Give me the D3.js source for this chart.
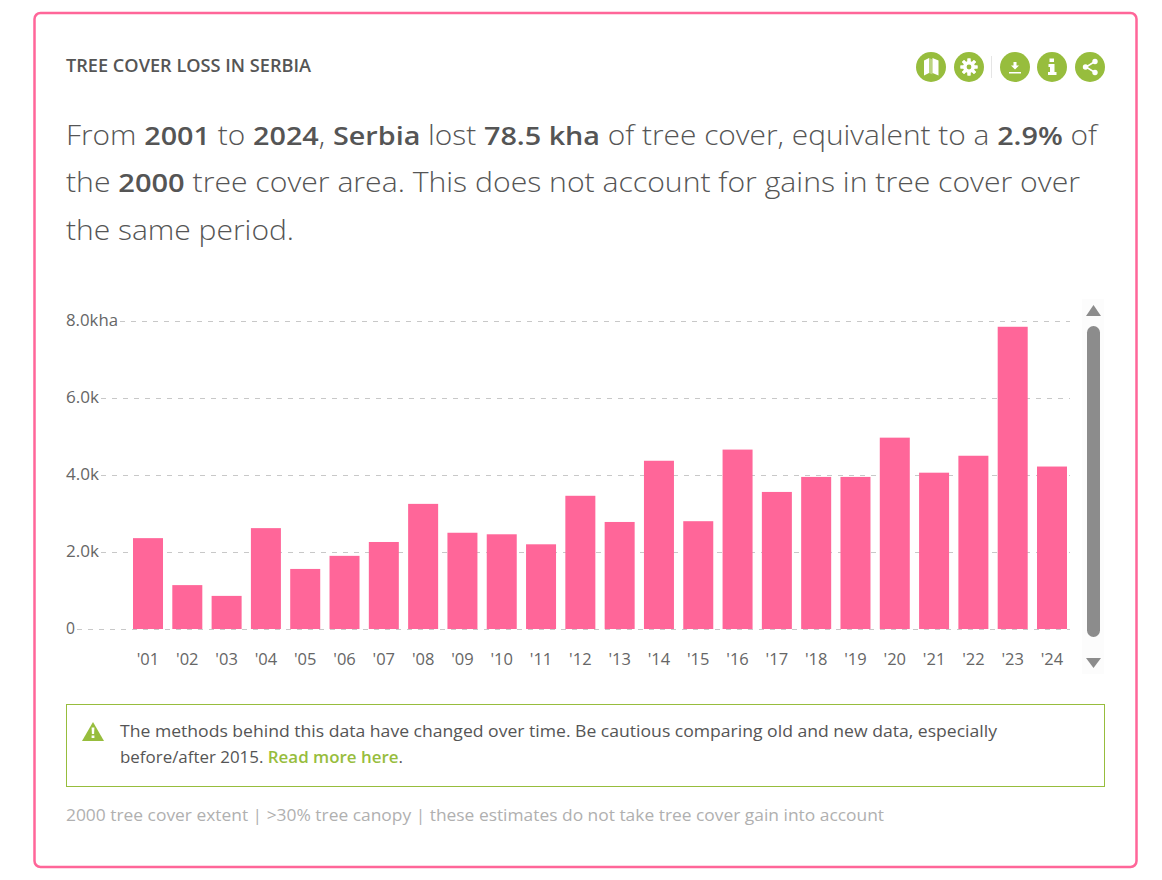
<!DOCTYPE html>
<html><head><meta charset="utf-8">
<script src="https://cdnjs.cloudflare.com/ajax/libs/d3/7.8.5/d3.min.js"></script>
<style>
html,body{margin:0;padding:0;background:#fff;overflow:hidden}
svg{display:block}
text{font-family:"Open Sans",sans-serif}
</style></head><body><div id="chart"></div>
<script>
const years=["'01","'02","'03","'04","'05","'06","'07","'08","'09","'10","'11","'12","'13","'14","'15","'16","'17","'18","'19","'20","'21","'22","'23","'24"];
const lossKha=[2.36,1.14,0.86,2.62,1.56,1.90,2.26,3.25,2.50,2.46,2.20,3.46,2.78,4.37,2.80,4.66,3.56,3.95,3.95,4.97,4.06,4.50,7.85,4.22];
const yTicks=[0,2,4,6,8];
const yTickLabels=["0","2.0k","4.0k","6.0k","8.0kha"];
const tickLabelWidths=[11,35,35,35,54];
const titleText="TREE COVER LOSS IN SERBIA";
const sentence=[
 [["From ",0],["2001",1],[" to ",0],["2024",1],[", ",0],["Serbia",1],[" lost ",0],["78.5 kha",1],[" of tree cover, equivalent to a ",0],["2.9%",1],[" of",0]],
 [["the ",0],["2000",1],[" tree cover area. This does not account for gains in tree cover over",0]],
 [["the same period.",0]]
];
const noteLines=[[["The methods behind this data have changed over time. Be cautious comparing old and new data, especially",0]],[["before/after 2015. ",0],["Read more here",1],[".",0]]];
const footer="2000 tree cover extent | >30% tree canopy | these estimates do not take tree cover gain into account";

const pink="#ff6699",green="#97bd3d",ink="#555";
const svg=d3.select("#chart").append("svg").attr("width",1162).attr("height",880);
svg.append("rect").attr("x",34.5).attr("y",13).attr("width",1102).attr("height",854).attr("rx",6)
 .attr("fill","#fff").attr("stroke",pink).attr("stroke-width",2.5);

const x=d3.scaleBand().domain(years).range([133,1067]).paddingInner(0.2366).paddingOuter(0);
const y=d3.scaleLinear().domain([0,8]).range([629,321]);

svg.append("text").attr("x",66).attr("y",72).attr("font-size",18).attr("font-weight",600).attr("fill",ink)
 .attr("textLength",245).attr("lengthAdjust","spacingAndGlyphs").text(titleText);

// header buttons
const icons=[931,969,1015,1052,1090];
svg.selectAll("circle.btn").data(icons).join("circle").attr("class","btn").attr("cx",d=>d).attr("cy",67).attr("r",15).attr("fill",green);
svg.append("line").attr("x1",991.5).attr("x2",991.5).attr("y1",56).attr("y2",78).attr("stroke","#e5e5e5");
const w=svg.append("g").attr("fill","#fff");
w.append("path").attr("d","M924 60.5l5 -2.5v15l-5 2.5zM932.5 58l6 2.5v15l-6 -2.5z");
w.append("path").attr("d","M929 58l3.5 1.5v15L929 73z").attr("opacity",0.35);
w.append("circle").attr("cx",969).attr("cy",67).attr("r",6);
w.selectAll("rect.t").data(d3.range(8)).join("rect").attr("class","t").attr("x",967.5).attr("y",58.5).attr("width",3).attr("height",17).attr("transform",d=>`rotate(${d*45} 969 67)`);
svg.append("circle").attr("cx",969).attr("cy",67).attr("r",2.4).attr("fill",green);
w.append("path").attr("d","M1013.5 62h3v3.5h2.5l-4 4l-4 -4h2.5zM1009 72h12v1.5h-12z");
w.append("path").attr("d","M1049.5 58.5h4.5v3.6h-4.5zM1048.5 64h6v8h2v3h-8.5v-3h2v-5h-1.5z");
w.append("path").attr("d","M1095 61.5L1086 67L1095 72.5").attr("fill","none").attr("stroke","#fff").attr("stroke-width",1.6);
w.selectAll("circle.s").data([[1095,61.5],[1085.5,67],[1095,72.5]]).join("circle").attr("class","s").attr("cx",d=>d[0]).attr("cy",d=>d[1]).attr("r",2.7);

// sentence
const sentY=[145,192,240],sentW=[1031,1014,228];
sentence.forEach((parts,i)=>{
 const t=svg.append("text").attr("x",66).attr("y",sentY[i]).attr("font-size",27).attr("fill",ink).attr("font-weight",300)
  .attr("textLength",sentW[i]).attr("lengthAdjust","spacingAndGlyphs");
 parts.forEach(p=>t.append("tspan").attr("font-weight",p[1]?600:300).attr("font-size",p[1]?26:27).text(p[0]));
});

// grid
const grid=svg.append("g");
grid.selectAll("line").data(yTicks).join("line")
 .attr("x1",(d,i)=>66+tickLabelWidths[i]).attr("x2",1070).attr("y1",d=>y(d)+0.5).attr("y2",d=>y(d)+0.5)
 .attr("stroke","#c8c8c8").attr("stroke-width",1).attr("stroke-dasharray","5 6");
svg.append("g").selectAll("text").data(yTicks).join("text").attr("x",66).attr("y",d=>y(d)+5)
 .attr("font-size",17).attr("font-weight",400).attr("fill","#666")
 .attr("textLength",(d,i)=>tickLabelWidths[i]-2).attr("lengthAdjust","spacingAndGlyphs").text((d,i)=>yTickLabels[i]);

svg.append("g").selectAll("rect").data(lossKha).join("rect")
 .attr("x",(d,i)=>x(years[i])).attr("width",x.bandwidth()).attr("y",d=>y(d)).attr("height",d=>y(0)-y(d)).attr("fill",pink);

svg.append("g").selectAll("text").data(years).join("text")
 .attr("x",d=>x(d)+x.bandwidth()/2).attr("y",665).attr("text-anchor","middle")
 .attr("font-size",16.5).attr("font-weight",400).attr("fill","#666").text(d=>d);

// scroll control
svg.append("rect").attr("x",1082).attr("y",299).attr("width",22).attr("height",375).attr("fill","#fcfcfc");
svg.append("rect").attr("x",1087).attr("y",326).attr("width",13).attr("height",311).attr("rx",6.5).attr("fill","#8c8c8c");
svg.append("path").attr("d","M1093.5 305l7.5 11h-15z").attr("fill","#8c8c8c");
svg.append("path").attr("d","M1086 658h15l-7.5 10z").attr("fill","#8c8c8c");

// note
svg.append("rect").attr("x",66.5).attr("y",704.5).attr("width",1038).attr("height",82).attr("fill","none").attr("stroke",green);
svg.append("path").attr("d","M93 722l11 19h-22z").attr("fill",green);
svg.append("path").attr("d","M91.6 727.5h2.8l-.3 6.5h-2.2zM91.6 735.5h2.8v2.6h-2.8z").attr("fill","#fff");
const noteY=[737,763],noteW=[877,283];
noteLines.forEach((parts,i)=>{
 const t=svg.append("text").attr("x",120).attr("y",noteY[i]).attr("font-size",17).attr("fill",ink)
  .attr("textLength",noteW[i]).attr("lengthAdjust","spacingAndGlyphs");
 parts.forEach(p=>t.append("tspan").attr("fill",p[1]?green:ink).attr("font-weight",p[1]?600:400).text(p[0]));
});
svg.append("text").attr("x",66).attr("y",821).attr("font-size",17).attr("font-weight",400).attr("fill","#b0b0b0")
 .attr("textLength",818).attr("lengthAdjust","spacingAndGlyphs").text(footer);
</script></body></html>
